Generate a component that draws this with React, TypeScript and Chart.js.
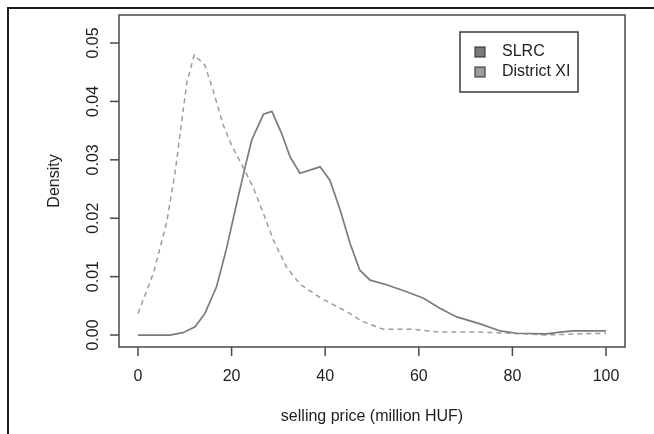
import React, { useEffect, useRef } from "react";
import { Chart, registerables } from "chart.js";

Chart.register(...registerables);

// ---- data ----
const seriesNames = ["SLRC", "District XI"];

const slrcX = [0, 3, 6.8, 9.6, 12.2, 14.3, 16.8, 19, 21.1, 22.9, 24.3, 26.8, 28.6, 30.7, 32.5, 34.6, 38.9, 41, 43.2, 45.3, 47.4, 49.6, 53.1, 57.4, 61, 64.5, 68.1, 73.1, 77.4, 80.9, 87.3, 90.2, 93, 100];
const slrcY = [0, 0, 0, 0.0004, 0.0014, 0.0037, 0.0083, 0.0151, 0.0226, 0.0288, 0.0334, 0.0378, 0.0383, 0.0345, 0.0305, 0.0277, 0.0288, 0.0265, 0.0214, 0.0157, 0.0111, 0.0094, 0.0086, 0.0074, 0.0063, 0.0046, 0.0031, 0.0019, 0.0007, 0.0003, 0.0002, 0.0005, 0.0007, 0.0007];

const districtX = [0, 3.3, 6.1, 7.9, 9.3, 10.4, 12, 14.3, 16, 18.2, 20, 22.4, 24.6, 26.8, 28.9, 31.7, 34.6, 38.9, 44.6, 48, 52.4, 58.8, 64.5, 73, 80, 87, 94.4, 100];
const districtY = [0.0037, 0.0106, 0.0192, 0.0277, 0.0363, 0.0431, 0.048, 0.0462, 0.042, 0.036, 0.0325, 0.0288, 0.0253, 0.0208, 0.0163, 0.0117, 0.0087, 0.0064, 0.004, 0.0023, 0.001, 0.001, 0.0005, 0.0005, 0.0003, 0.0, 0.0002, 0.0003];

const xTickValues = [0, 20, 40, 60, 80, 100];
const xTickLabels = ["0", "20", "40", "60", "80", "100"];
const yTickValues = [0, 0.01, 0.02, 0.03, 0.04, 0.05];
const yTickLabels = ["0.00", "0.01", "0.02", "0.03", "0.04", "0.05"];
const xTitle = "selling price (million HUF)";
const yTitle = "Density";

const FONT = '"Liberation Sans", Arial, Helvetica, sans-serif';
const SOLID_COLOR = "#7b7b7b";
const DASH_COLOR = "#9c9c9c";
const TEXT_COLOR = "#1e1e1e";
const AXIS_COLOR = "#4a4a4a";

const rStylePlugin = {
  id: "rStyle",
  afterDraw(chart: any) {
    const { ctx, chartArea: a, scales } = chart;
    const xs = scales.x;
    const ys = scales.y;
    ctx.save();

    // outer figure frame (top and left only)
    ctx.strokeStyle = "#1c1c1c";
    ctx.lineWidth = 2;
    ctx.beginPath();
    ctx.moveTo(8, chart.height);
    ctx.lineTo(8, 8);
    ctx.lineTo(chart.width, 8);
    ctx.stroke();

    // plot box
    ctx.strokeStyle = AXIS_COLOR;
    ctx.lineWidth = 1.5;
    ctx.strokeRect(a.left, a.top, a.right - a.left, a.bottom - a.top);

    // x axis ticks + labels
    ctx.lineWidth = 1.5;
    ctx.fillStyle = TEXT_COLOR;
    ctx.font = `16px ${FONT}`;
    ctx.textAlign = "center";
    ctx.textBaseline = "middle";
    xTickValues.forEach((v, i) => {
      const px = xs.getPixelForValue(v);
      ctx.beginPath();
      ctx.moveTo(px, a.bottom);
      ctx.lineTo(px, a.bottom + 9);
      ctx.stroke();
      ctx.fillText(xTickLabels[i], px, a.bottom + 30);
    });

    // y axis ticks + rotated labels
    yTickValues.forEach((v, i) => {
      const py = ys.getPixelForValue(v);
      ctx.beginPath();
      ctx.moveTo(a.left, py);
      ctx.lineTo(a.left - 9, py);
      ctx.stroke();
      ctx.save();
      ctx.translate(a.left - 21, py);
      ctx.rotate(-Math.PI / 2);
      ctx.textAlign = "center";
      ctx.textBaseline = "alphabetic";
      ctx.fillText(yTickLabels[i], 0, 0);
      ctx.restore();
    });

    // axis titles
    ctx.textAlign = "center";
    ctx.textBaseline = "alphabetic";
    ctx.fillText(xTitle, (a.left + a.right) / 2, a.bottom + 74);
    ctx.save();
    ctx.translate(a.left - 60, (a.top + a.bottom) / 2);
    ctx.rotate(-Math.PI / 2);
    ctx.fillText(yTitle, 0, 0);
    ctx.restore();

    // legend box
    const lx = a.right - 165;
    const ly = a.top + 17;
    ctx.strokeStyle = "#3a3a3a";
    ctx.lineWidth = 1.5;
    ctx.strokeRect(lx, ly, 118, 60);
    const fills = [SOLID_COLOR, DASH_COLOR];
    seriesNames.forEach((name, i) => {
      const cy = ly + 20 + i * 20;
      ctx.fillStyle = fills[i];
      ctx.fillRect(lx + 15, cy - 5, 10, 10);
      ctx.strokeStyle = "#2a2a2a";
      ctx.lineWidth = 1;
      ctx.strokeRect(lx + 15, cy - 5, 10, 10);
      ctx.fillStyle = TEXT_COLOR;
      ctx.textAlign = "left";
      ctx.textBaseline = "middle";
      ctx.font = `16px ${FONT}`;
      ctx.fillText(name, lx + 42, cy);
    });

    ctx.restore();
  },
};

export default function App() {
  const canvasRef = useRef<HTMLCanvasElement | null>(null);

  useEffect(() => {
    const canvas = canvasRef.current;
    if (!canvas) return;
    const chart = new Chart(canvas, {
      type: "scatter",
      data: {
        datasets: [
          {
            label: seriesNames[0],
            data: slrcX.map((x, i) => ({ x, y: slrcY[i] })),
            showLine: true,
            borderColor: SOLID_COLOR,
            borderWidth: 1.7,
            pointRadius: 0,
            fill: false,
            tension: 0,
          },
          {
            label: seriesNames[1],
            data: districtX.map((x, i) => ({ x, y: districtY[i] })),
            showLine: true,
            borderColor: DASH_COLOR,
            borderWidth: 1.5,
            borderDash: [5, 4],
            pointRadius: 0,
            fill: false,
            tension: 0,
          },
        ],
      },
      options: {
        responsive: false,
        animation: false,
        devicePixelRatio: 1,
        events: [],
        layout: { padding: { left: 119, right: 29, top: 15, bottom: 87 } },
        plugins: { legend: { display: false }, tooltip: { enabled: false } },
        scales: {
          x: { type: "linear", min: -4.06, max: 104.06, display: false },
          y: { type: "linear", min: -0.00205, max: 0.0548, display: false },
        },
      },
      plugins: [rStylePlugin],
    });
    return () => chart.destroy();
  }, []);

  return (
    <div style={{ position: "fixed", left: 0, top: 0, width: 654, height: 434, background: "#fff" }}>
      <canvas ref={canvasRef} width={654} height={434} style={{ display: "block", width: 654, height: 434 }} />
    </div>
  );
}
